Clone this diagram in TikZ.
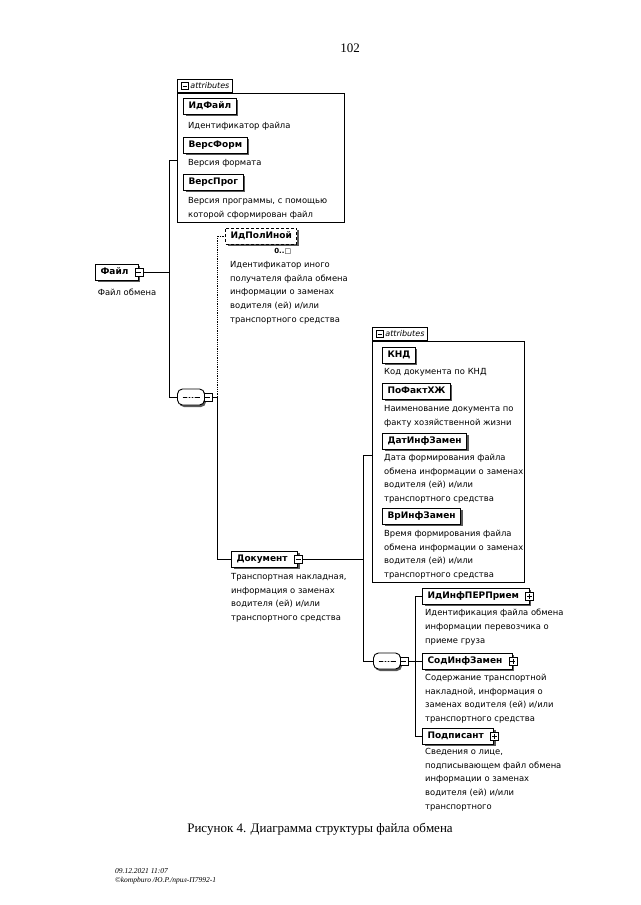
\documentclass[tikz,border=0pt]{standalone}
\usepackage{fontspec}
\setmainfont{Liberation Serif}
\newfontfamily\xsdsans{DejaVu Sans}
\usetikzlibrary{positioning,shadows}

\newcommand\notefont{\xsdsans\fontsize{8.4}{13.7}\selectfont}
\newcommand\elemfont{\xsdsans\bfseries\fontsize{9}{10}\selectfont}

\tikzset{
  elem/.style={draw, line width=1pt, fill=white, anchor=west, font=\elemfont,
    inner xsep=5pt, inner ysep=0pt, minimum height=16pt, text height=7pt, text depth=1.5pt,
    drop shadow={shadow xshift=2pt, shadow yshift=-2pt, fill=black!65, opacity=1}},
  elemx/.style={elem, execute at end node={\hspace{5pt}}},
  optelem/.style={elem, densely dashed},
  note/.style={anchor=north west, inner sep=0pt, align=left, font=\notefont},
  attrbox/.style={draw, line width=0.7pt, fill=white, anchor=north west, inner sep=0pt},
  attrtab/.style={draw, line width=0.7pt, fill=white, anchor=south west, inner xsep=3pt, inner ysep=3pt,
    font=\xsdsans\itshape\fontsize{8}{9}\selectfont, text height=6pt, text depth=1.5pt,
    execute at begin node={\hspace{10pt}}},
  tog/.style={draw, line width=0.6pt, fill=white, minimum size=8pt, inner sep=0pt},
  togminus/.style={tog, path picture={
    \draw ([xshift=1.5pt]path picture bounding box.west) -- ([xshift=-1.5pt]path picture bounding box.east);}},
  togplus/.style={tog, path picture={
    \draw ([xshift=1.5pt]path picture bounding box.west) -- ([xshift=-1.5pt]path picture bounding box.east);
    \draw ([yshift=-1.5pt]path picture bounding box.north) -- ([yshift=1.5pt]path picture bounding box.south);}},
  seqbox/.style={draw, line width=0.9pt, fill=white, rounded corners=5pt,
    minimum width=27pt, minimum height=16pt, inner sep=0pt,
    drop shadow={shadow xshift=1.5pt, shadow yshift=-2pt, fill=black!65, opacity=1},
    path picture={
      \draw ([xshift=5pt]path picture bounding box.west) -- ([xshift=-5pt]path picture bounding box.east);
      \foreach \dx in {-3,0,3} \fill ([xshift=\dx pt]path picture bounding box.center) circle (1pt);}},
  bus/.style={line width=0.8pt},
}

\begin{document}
\begin{tikzpicture}[x=1pt, y=-1pt]
  \useasboundingbox (0,0) rectangle (640,905);

  % page number
  \node (pagenum) at (350,48) {\fontsize{13}{15}\selectfont 102};

  % root element
  \node[elemx] (fajl) at (95,272) {Файл};
  \node[togminus] (fajlT) at (fajl.east) {};
  \node[note, anchor=north] (fajlN) at (127,289) {Файл обмена};

  % attributes of Файл
  \node[attrbox, minimum width=167pt, minimum height=129pt] (attrA) at (177,93) {};
  \node[attrtab] (attrAtab) at (attrA.north west) {attributes};
  \node[togminus, minimum size=7pt] (attrAT) at ([xshift=7.5pt]attrAtab.west) {};
  \node[elem] (idfajl) at (183,106) {ИдФайл};
  \node[note] (idfajlN) at (188,122) {Идентификатор файла};
  \node[elem] (versform) at (183,145) {ВерсФорм};
  \node[note] (versformN) at (188,159) {Версия формата};
  \node[elem] (versprog) at (183,182) {ВерсПрог};
  \node[note] (versprogN) at (188,197) {Версия программы, с помощью\\которой сформирован файл};

  % sequence of Файл
  \node[seqbox] (seqA) at (191,397) {};
  \node[togminus] (seqAT) at ([xshift=3pt]seqA.east) {};

  % optional element
  \node[optelem] (idpol) at (225,236) {ИдПолИной};
  \node[anchor=north east, inner sep=0pt, font=\xsdsans\fontsize{7}{8}\selectfont] (idpolM)
    at ([xshift=-6pt, yshift=-4pt]idpol.south east) {\textbf{0..}□};
  \node[note] (idpolN) at (230,261) {Идентификатор иного\\получателя файла обмена\\информации о заменах\\водителя (ей) и/или\\транспортного средства};

  % Документ
  \node[elemx] (dok) at (231,559) {Документ};
  \node[togminus] (dokT) at (dok.east) {};
  \node[note] (dokN) at (231,573) {Транспортная накладная,\\информация о заменах\\водителя (ей) и/или\\транспортного средства};

  % attributes of Документ
  \node[attrbox, minimum width=152pt, minimum height=241pt] (attrB) at (372,341) {};
  \node[attrtab] (attrBtab) at (attrB.north west) {attributes};
  \node[togminus, minimum size=7pt] (attrBT) at ([xshift=7.5pt]attrBtab.west) {};
  \node[elem] (knd) at (382,355) {КНД\hspace{14pt}};
  \node[note] (kndN) at (384,368) {Код документа по КНД};
  \node[elem] (pofakt) at (382,391) {ПоФактХЖ};
  \node[note] (pofaktN) at (384,405) {Наименование документа по\\факту хозяйственной жизни};
  \node[elem] (datinf) at (382,441) {ДатИнфЗамен};
  \node[note] (datinfN) at (384,454) {Дата формирования файла\\обмена информации о заменах\\водителя (ей) и/или\\транспортного средства};
  \node[elem] (vrinf) at (382,516) {ВрИнфЗамен};
  \node[note] (vrinfN) at (384,530) {Время формирования файла\\обмена информации о заменах\\водителя (ей) и/или\\транспортного средства};

  % sequence of Документ
  \node[seqbox] (seqB) at (387,661) {};
  \node[togminus] (seqBT) at ([xshift=3pt]seqB.east) {};
  \node[elemx] (idinf) at (422,596) {ИдИнфПЕРПрием};
  \node[togplus] (idinfT) at (idinf.east) {};
  \node[note] (idinfN) at (425,609) {Идентификация файла обмена\\информации перевозчика о\\приеме груза};
  \node[elemx] (sodinf) at (422,661) {СодИнфЗамен};
  \node[togplus] (sodinfT) at (sodinf.east) {};
  \node[note] (sodinfN) at (425,674) {Содержание транспортной\\накладной, информация о\\заменах водителя (ей) и/или\\транспортного средства};
  \node[elemx] (podp) at (422,736) {Подписант};
  \node[togplus] (podpT) at (podp.east) {};
  \node[note] (podpN) at (425,748) {Сведения о лице,\\подписывающем файл обмена\\информации о заменах\\водителя (ей) и/или\\транспортного};

  % connectors
  \coordinate (busAtop) at (169,160);
  \coordinate (busA) at (169,272);
  \coordinate (busB) at (217,397);
  \coordinate (busCtop) at (363,455);
  \coordinate (busC) at (363,559);
  \coordinate (busD) at (415,661);
  \draw[bus] (fajlT.east) -- (busA);
  \draw[bus] (busAtop -| attrA.west) -- (busAtop) -- (busAtop |- seqA) -- (seqA.west);
  \draw[bus] (seqAT.east) -- (busB);
  \draw[bus, densely dotted] (busB) -- (busB |- idpol) -- (idpol.west);
  \draw[bus] (busB) -- (busB |- dok) -- (dok.west);
  \draw[bus] (dokT.east) -- (busC);
  \draw[bus] (busCtop -| attrB.west) -- (busCtop) -- (busCtop |- seqB) -- (seqB.west);
  \draw[bus] (seqBT.east) -- (busD);
  \draw[bus] (idinf.west) -- (busD |- idinf) -- (busD |- podp) -- (podp.west);
  \draw[bus] (busD) -- (sodinf.west);

  % caption
  \node (caption) at (320,829) {\fontsize{13}{15}\selectfont Рисунок 4. Диаграмма структуры файла обмена};

  % footer
  \node[anchor=north west, align=left, inner sep=0pt, font=\itshape\fontsize{7.5}{9.5}\selectfont] (footer)
    at (115,868) {09.12.2021 11:07\\©kompburo /Ю.Р./прил-П7992-1};
\end{tikzpicture}
\end{document}
